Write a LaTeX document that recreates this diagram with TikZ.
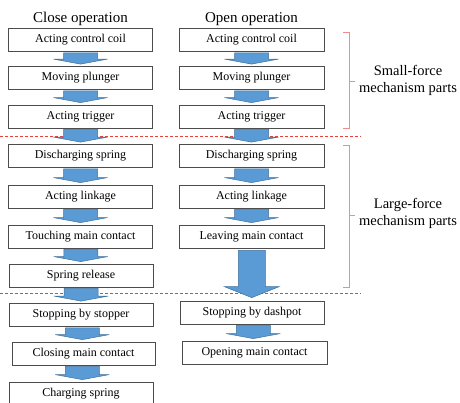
\documentclass[tikz,border=0pt]{standalone}
\usepackage{fontspec}
\setmainfont{Liberation Serif}
\usetikzlibrary{calc}
\definecolor{arrowfill}{HTML}{5B9BD5}
\definecolor{arrowline}{HTML}{41719C}
\definecolor{bracketred}{HTML}{F28B8B}
\definecolor{dashred}{HTML}{E8413C}
\tikzset{
  stepbox/.style={draw=black!70, line width=0.8pt, minimum width=144pt, minimum height=23pt, inner sep=0pt, font=\fontsize{12}{14}\selectfont},
  coltitle/.style={font=\fontsize{15}{17}\selectfont, inner sep=0pt},
  sidelabel/.style={font=\fontsize{14.5}{17}\selectfont, align=center, inner sep=0pt},
  blockarrow/.style={fill=arrowfill, draw=arrowline, line width=0.5pt},
  sepline/.style={draw=dashred, dashed, dash pattern=on 3pt off 2pt, line width=0.9pt},
  bracket/.style={draw=bracketred, line width=1pt}
}
\newcommand\smallarrow[2]{%
  \path[blockarrow] let \p1=(#1.south), \p2=(#2.north), \n1={(\x1+\x2)/2} in
    (\n1-17pt,\y1-1pt) -- (\n1+17pt,\y1-1pt) -- (\n1+17pt,\y2+7pt) -- (\n1+27pt,\y2+7pt)
    -- (\n1,\y2+2pt) -- (\n1-27pt,\y2+7pt) -- (\n1-17pt,\y2+7pt) -- cycle;}
\newcommand\bigarrow[2]{%
  \path[blockarrow] let \p1=(#1.south), \p2=(#2.north), \n1={(\x1+\x2)/2} in
    (\n1-13.5pt,\y1-2pt) -- (\n1+13.5pt,\y1-2pt) -- (\n1+13.5pt,\y2+14pt) -- (\n1+27.5pt,\y2+14pt)
    -- (\n1,\y2+3pt) -- (\n1-27.5pt,\y2+14pt) -- (\n1-13.5pt,\y2+14pt) -- cycle;}
\begin{document}
\begin{tikzpicture}[x=1pt,y=-1pt]
\useasboundingbox[fill=white] (0,0) rectangle (460,402);
% separators
\coordinate (d1a) at (0,136); \coordinate (d1b) at (361,136);
\coordinate (d2a) at (0,293); \coordinate (d2b) at (361,293);
\draw[sepline] (d1a) -- (d1b);
\draw[sepline] (d2a) -- (d2b);
% titles
\node[coltitle] (t1) at (80.5,19) {Close operation};
\node[coltitle] (t2) at (251.5,19) {Open operation};
% left column
\node[stepbox] (l1) at (80.5,40) {Acting control coil};
\node[stepbox] (l2) at (80.5,78) {Moving plunger};
\node[stepbox] (l3) at (80.5,116.5) {Acting trigger};
\node[stepbox] (l4) at (80.5,156) {Discharging spring};
\node[stepbox] (l5) at (80.5,196.5) {Acting linkage};
\node[stepbox] (l6) at (80.5,236.5) {Touching main contact};
\node[stepbox] (l7) at (81,275.5) {Spring release};
\node[stepbox] (l8) at (81,315) {Stopping by stopper};
\node[stepbox,minimum width=143pt] (l9) at (83.5,353.5) {Closing main contact};
\node[stepbox] (l10) at (81,393.5) {Charging spring};
% right column
\node[stepbox,minimum width=145pt] (r1) at (251.5,40) {Acting control coil};
\node[stepbox,minimum width=145pt] (r2) at (251.5,78) {Moving plunger};
\node[stepbox,minimum width=145pt] (r3) at (251.5,116.5) {Acting trigger};
\node[stepbox,minimum width=145pt] (r4) at (251.5,156) {Discharging spring};
\node[stepbox,minimum width=145pt] (r5) at (251.5,196.5) {Acting linkage};
\node[stepbox,minimum width=145pt] (r6) at (251.5,236.5) {Leaving main contact};
\node[stepbox] (r7) at (252,312.5) {Stopping by dashpot};
\node[stepbox,minimum width=145pt] (r8) at (254.5,352.5) {Opening main contact};
% arrows
\smallarrow{l1}{l2}
\smallarrow{l2}{l3}
\smallarrow{l3}{l4}
\smallarrow{l4}{l5}
\smallarrow{l5}{l6}
\smallarrow{l6}{l7}
\smallarrow{l7}{l8}
\smallarrow{l8}{l9}
\smallarrow{l9}{l10}
\smallarrow{r1}{r2}
\smallarrow{r2}{r3}
\smallarrow{r3}{r4}
\smallarrow{r4}{r5}
\smallarrow{r5}{r6}
\bigarrow{r6}{r7}
\smallarrow{r7}{r8}
% brackets
\coordinate (b1t) at (343,32); \coordinate (b1b) at (343,128); \coordinate (b1m) at (355,81);
\coordinate (b2t) at (343,145); \coordinate (b2b) at (343,287); \coordinate (b2m) at (355,215);
\draw[bracket] (b1t) -- ++(6,0) |- (b1b);
\draw[bracket] (b1m) -- ++(-6,0);
\draw[bracket] (b2t) -- ++(6,0) |- (b2b);
\draw[bracket] (b2m) -- ++(-6,0);
\node[sidelabel] (s1) at (408,80) {Small-force\\mechanism parts};
\node[sidelabel] (s2) at (408,213) {Large-force\\mechanism parts};
\end{tikzpicture}
\end{document}
